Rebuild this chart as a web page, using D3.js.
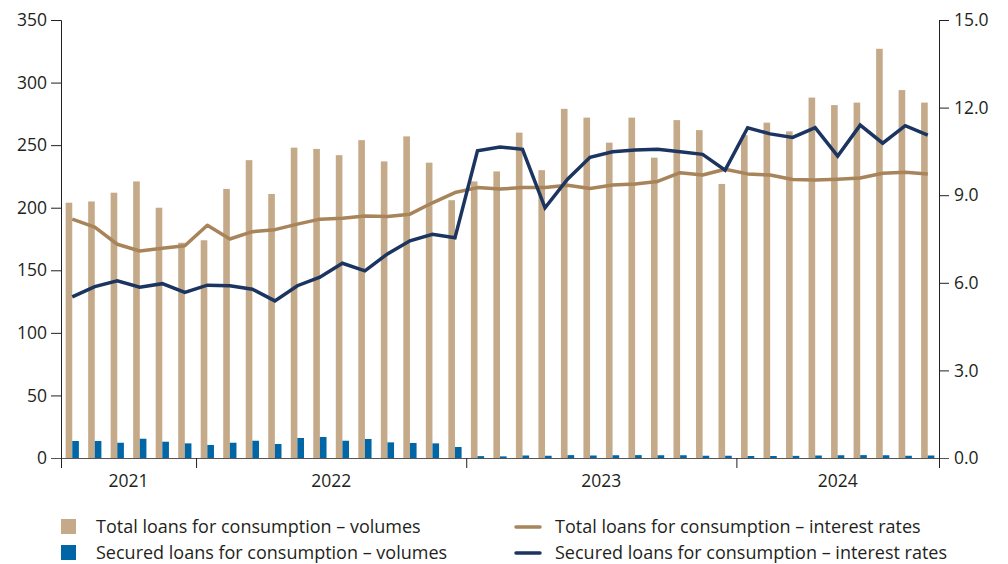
<!DOCTYPE html>
<html>
<head>
<meta charset="utf-8">
<script src="https://cdn.jsdelivr.net/npm/d3@7"></script>
<style>
  body { margin: 0; background: #fff; }
  svg text { font-family: "Open Sans", "Noto Sans", sans-serif; fill: #231f20; }
</style>
</head>
<body>
<div id="chart"></div>
<script>
// months Jul 2021 - Sep 2024
const years = ["2021", "2022", "2023", "2024"];
const monthsPerYear = [6, 12, 12, 9];

const totalVolumes = [204, 205, 212, 221, 200, 172, 174, 215, 238, 211, 248, 247,
  242, 254, 237, 257, 236, 206, 221, 229, 260, 230, 279, 272,
  252, 272, 240, 270, 262, 219, 258, 268, 261, 288, 282, 284,
  327, 294, 284];
const securedVolumes = [13.6, 13.6, 12.2, 15.4, 13, 11.7, 10.4, 12.2, 13.8, 11.2, 16, 16.8,
  13.8, 15.2, 12.5, 12, 11.7, 8.8, 1.5, 1.3, 2, 1.8, 2.3, 2,
  2.2, 2.3, 2.2, 2.2, 1.8, 1.8, 1.6, 1.6, 1.7, 2, 2.2, 2.3,
  2.2, 1.8, 2];
const totalRates = [8.18, 7.91, 7.32, 7.09, 7.18, 7.27, 7.97, 7.5, 7.75, 7.82, 8.01, 8.18,
  8.21, 8.29, 8.27, 8.35, 8.74, 9.09, 9.26, 9.21, 9.26, 9.26, 9.34, 9.23,
  9.35, 9.38, 9.47, 9.77, 9.69, 9.89, 9.73, 9.69, 9.54, 9.52, 9.55, 9.59,
  9.75, 9.79, 9.73];
const securedRates = [5.52, 5.87, 6.07, 5.85, 5.97, 5.67, 5.92, 5.9, 5.78, 5.38, 5.9, 6.19,
  6.67, 6.41, 6.99, 7.44, 7.66, 7.54, 10.52, 10.65, 10.57, 8.57, 9.55, 10.3,
  10.49, 10.55, 10.57, 10.49, 10.4, 9.86, 11.31, 11.1, 10.98, 11.31, 10.34, 11.4,
  10.78, 11.38, 11.06];

const leftTicks = [0, 50, 100, 150, 200, 250, 300, 350];
const rightTicks = [0, 3, 6, 9, 12, 15];

const legendItems = [
  {label: "Total loans for consumption \u2013 volumes", type: "bar", color: "#c5aa89"},
  {label: "Secured loans for consumption \u2013 volumes", type: "bar", color: "#0066a6"},
  {label: "Total loans for consumption \u2013 interest rates", type: "line", color: "#a8845a"},
  {label: "Secured loans for consumption \u2013 interest rates", type: "line", color: "#1b3560"}
];

function drawChart() {
  const width = 1008, height = 564;
  const margin = {top: 20, right: 69, bottom: 106, left: 61};
  const innerW = width - margin.left - margin.right;
  const innerH = height - margin.top - margin.bottom;
  const fs = "17.5px";

  const svg = d3.select("#chart").append("svg")
    .attr("width", width)
    .attr("height", height);

  const g = svg.append("g")
    .attr("transform", `translate(${margin.left},${margin.top})`);

  const idx = d3.range(totalVolumes.length);

  const x = d3.scaleBand().domain(idx).range([0, innerW]).padding(0);
  const xs = d3.scaleBand().domain(["total", "secured"])
    .range([0, x.bandwidth()]).paddingInner(0).paddingOuter(0.7);

  const yL = d3.scaleLinear().domain([0, 350]).range([innerH, 0]);
  const yR = d3.scaleLinear().domain([0, 15]).range([innerH, 0]);

  // bars
  g.append("g").selectAll("rect.total")
    .data(idx).join("rect")
    .attr("x", i => x(i) + xs("total"))
    .attr("y", i => yL(totalVolumes[i]))
    .attr("width", xs.bandwidth())
    .attr("height", i => innerH - yL(totalVolumes[i]))
    .attr("fill", legendItems[0].color);

  g.append("g").selectAll("rect.secured")
    .data(idx).join("rect")
    .attr("x", i => x(i) + xs("secured"))
    .attr("y", i => yL(securedVolumes[i]))
    .attr("width", xs.bandwidth())
    .attr("height", i => innerH - yL(securedVolumes[i]))
    .attr("fill", legendItems[1].color);

  // lines
  const line = arr => d3.line()
    .x(i => x(i) + x.bandwidth() / 2)
    .y(i => yR(arr[i]))(idx);

  g.append("path")
    .attr("d", line(totalRates))
    .attr("fill", "none")
    .attr("stroke", legendItems[2].color)
    .attr("stroke-width", 3.5)
    .attr("stroke-linejoin", "round");

  g.append("path")
    .attr("d", line(securedRates))
    .attr("fill", "none")
    .attr("stroke", legendItems[3].color)
    .attr("stroke-width", 3.5)
    .attr("stroke-linejoin", "miter");

  // left axis
  const axL = g.append("g")
    .call(d3.axisLeft(yL).tickValues(leftTicks).tickSize(10).tickPadding(4));
  axL.select(".domain").attr("stroke", "#231f20");
  axL.selectAll(".tick line").attr("stroke", "#231f20");
  axL.selectAll("text").style("font-size", fs).attr("fill", "#231f20");

  // right axis
  const axR = g.append("g")
    .attr("transform", `translate(${innerW},0)`)
    .call(d3.axisRight(yR).tickValues(rightTicks).tickFormat(d3.format(".1f"))
      .tickSize(10).tickPadding(5));
  axR.select(".domain").attr("stroke", "#231f20");
  axR.selectAll(".tick line").attr("stroke", "#231f20");
  axR.selectAll("text").style("font-size", fs).attr("fill", "#231f20");

  // bottom axis with year separators
  const bounds = [0];
  monthsPerYear.forEach((n, k) => bounds.push(bounds[k] + n));
  const xYear = d3.scaleLinear().domain([0, totalVolumes.length]).range([0, innerW]);

  const axB = g.append("g")
    .attr("transform", `translate(0,${innerH})`)
    .call(d3.axisBottom(xYear).tickValues(bounds).tickSize(10).tickFormat(""));
  axB.select(".domain").attr("stroke", "#555").attr("d", `M-10,0.5H${innerW + 10}`);
  axB.selectAll(".tick line").attr("stroke", "#231f20");

  g.append("g").selectAll("text")
    .data(years).join("text")
    .attr("x", (d, k) => xYear((bounds[k] + bounds[k + 1]) / 2))
    .attr("y", innerH + 29)
    .attr("text-anchor", "middle")
    .style("font-size", fs)
    .text(d => d);

  // legend
  const legend = svg.append("g");
  const cols = [61, 515];
  const rows = [527, 553];
  legendItems.forEach((item, k) => {
    const lx = cols[Math.floor(k / 2)], ly = rows[k % 2];
    const it = legend.append("g").attr("transform", `translate(${lx},${ly})`);
    if (item.type === "bar") {
      it.append("rect").attr("x", 0).attr("y", -8).attr("width", 15).attr("height", 15)
        .attr("fill", item.color);
    } else {
      it.append("line").attr("x1", 1).attr("x2", 25).attr("y1", 0).attr("y2", 0)
        .attr("stroke", item.color).attr("stroke-width", 3.5).attr("stroke-linecap", "round");
    }
    it.append("text").attr("x", item.type === "bar" ? 35 : 40).attr("y", 0)
      .attr("dy", "0.35em")
      .style("font-size", "18px")
      .text(item.label);
  });
}

drawChart();
</script>
</body>
</html>
